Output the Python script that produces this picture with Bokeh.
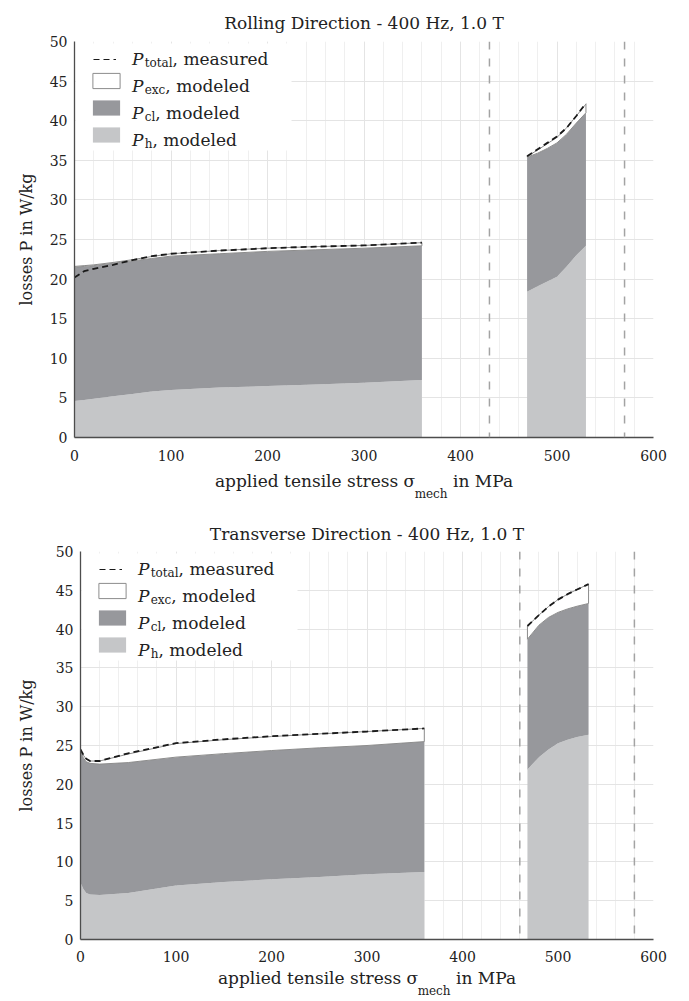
import numpy as np
from bokeh.plotting import figure
from bokeh.models import (Range1d, FixedTicker, Label, Span, Legend, LegendItem,
                          BoxAnnotation, Spacer)
from bokeh.layouts import column, row
from bokeh.embed import file_html
from bokeh.resources import INLINE
from bokeh.core.properties import value

FONT = "DejaVu Serif"
TXT = "#222222"
H_COLOR = "#c5c6c8"
CL_COLOR = "#97989c"
EXC_LINE = "#8c8c8c"

# ---------------- axis ticks ----------------
x_ticks = [0, 100, 200, 300, 400, 500, 600]
x_minor = list(range(0, 601, 20))
y_ticks = [0, 5, 10, 15, 20, 25, 30, 35, 40, 45, 50]

# ---------------- Rolling Direction ----------------
rd_x1 = [0, 10, 20, 40, 60, 80, 100, 150, 200, 250, 300, 360]
rd_h1 = [4.6, 4.75, 4.9, 5.2, 5.5, 5.8, 6.0, 6.3, 6.5, 6.7, 6.9, 7.25]
rd_cl1 = [16.9, 16.85, 16.8, 16.8, 16.8, 16.8, 16.9, 16.9, 17.0, 17.0, 17.0, 16.95]
rd_exc1 = [0.1, 0.1, 0.1, 0.1, 0.15, 0.25, 0.3, 0.4, 0.4, 0.4, 0.35, 0.4]
rd_meas1 = [20.2, 21.0, 21.3, 21.8, 22.4, 22.9, 23.2, 23.6, 23.9, 24.1, 24.25, 24.6]

rd_x2 = [469, 480, 490, 500, 510, 520, 530]
rd_h2 = [18.4, 19.1, 19.7, 20.3, 21.6, 23.0, 24.2]
rd_cl2 = [17.0, 16.8, 16.8, 16.9, 16.7, 16.7, 16.8]
rd_exc2 = [0.1, 0.4, 0.6, 0.7, 0.8, 0.9, 1.1]
rd_meas2 = [35.5, 36.4, 37.2, 38.0, 39.1, 40.6, 42.2]

rd_limits = [430, 570]

# ---------------- Transverse Direction ----------------
td_x1 = [0, 3, 6, 10, 20, 50, 100, 150, 200, 250, 300, 360]
td_h1 = [7.3, 6.5, 6.0, 5.8, 5.75, 6.0, 6.95, 7.4, 7.75, 8.05, 8.4, 8.7]
td_cl1 = [17.0, 16.9, 16.9, 16.9, 16.85, 16.8, 16.55, 16.55, 16.6, 16.65, 16.6, 16.8]
td_exc1 = [0.2, 0.35, 0.35, 0.3, 0.4, 1.1, 1.75, 1.8, 1.8, 1.8, 1.8, 1.7]
td_meas1 = [24.5, 23.8, 23.3, 23.0, 23.0, 24.0, 25.3, 25.8, 26.2, 26.5, 26.8, 27.2]

td_x2 = [468, 480, 490, 500, 510, 520, 532]
td_h2 = [21.9, 23.5, 24.5, 25.3, 25.75, 26.1, 26.4]
td_cl2 = [16.8, 17.0, 17.0, 16.85, 16.85, 16.85, 16.9]
td_exc2 = [1.7, 1.3, 1.4, 1.65, 1.9, 2.15, 2.5]
td_meas2 = [40.4, 41.8, 42.9, 43.8, 44.5, 45.1, 45.8]

td_limits = [460, 580]

legend_rows = [("total", "measured"), ("exc", "modeled"), ("cl", "modeled"), ("h", "modeled")]

# approximate advance widths (em) of DejaVu Serif, for chaining text pieces
W = {' ': .318, '\u00a0': .318, ',': .318, 'a': .596, 'c': .560, 'd': .640, 'e': .592,
     'h': .644, 'i': .320, 'l': .320, 'm': .948, 'n': .644, 'o': .602, 'p': .640,
     'r': .478, 's': .513, 't': .402, 'x': .564, 'u': .644, 'k': .609, 'g': .640,
     '/': .337, 'M': .995, 'P': .733, 'W': 1.03, 'σ': .634}
P_ITAL = 0.69
LEG_SIZE = 17
SUB_SIZE = 12
XLAB_SIZE = 17
YLAB_SIZE = 16


def tw(s, size):
    return sum(W.get(c, .6) for c in s) * size


def lab(p, x, y, text, size, style="normal", align="left", place=None):
    l = Label(x=x, y=y, x_units="screen", y_units="screen", text=text,
              text_font=FONT, text_font_size=f"{size}px", text_font_style=style,
              text_color=TXT, text_align=align, text_baseline="alphabetic",
              level="overlay")
    if place is None:
        p.add_layout(l)
    else:
        p.add_layout(l, place)


def make_plot(title, segments, limits, frame_w, frame_h, left, top, bottom, right,
              title_standoff, ylab_standoff, xtick_standoff, xlab_standoff):
    p = figure(frame_width=frame_w, frame_height=frame_h,
               min_border_left=left, min_border_right=right,
               min_border_top=top, min_border_bottom=bottom,
               x_range=Range1d(0, 600), y_range=Range1d(0, 50),
               output_backend="svg", toolbar_location=None, title=title)
    p.outline_line_color = None
    p.background_fill_color = "white"

    p.title.text_font = FONT
    p.title.text_font_size = "17px"
    p.title.text_font_style = "normal"
    p.title.text_color = TXT
    p.title.align = "center"
    p.title.standoff = title_standoff

    p.xaxis.ticker = FixedTicker(ticks=x_ticks, minor_ticks=x_minor)
    p.yaxis.ticker = FixedTicker(ticks=y_ticks)
    for ax in (p.xaxis, p.yaxis):
        ax.major_tick_line_color = None
        ax.minor_tick_line_color = None
        ax.major_tick_out = 0
        ax.major_tick_in = 0
        ax.axis_line_color = "#4d4d4d"
        ax.axis_line_width = 1.3
        ax.major_label_text_font = FONT
        ax.major_label_text_font_size = "14px"
        ax.major_label_text_color = TXT
        ax.axis_label_text_font = FONT
        ax.axis_label_text_font_style = "normal"
        ax.axis_label_text_color = TXT
    p.xaxis.major_label_standoff = xtick_standoff
    p.yaxis.major_label_standoff = 7
    p.yaxis.axis_label = "losses P in W/kg"
    p.yaxis.axis_label_text_font_size = f"{YLAB_SIZE}px"
    p.yaxis.axis_label_standoff = ylab_standoff

    # x-axis label with a gap where the subscript "mech" goes
    A, C = "applied tensile stress σ", "in MPa"
    n_gap = 7
    xl = A + "\u00a0" * n_gap + C
    p.xaxis.axis_label = xl
    p.xaxis.axis_label_text_font_size = f"{XLAB_SIZE}px"
    p.xaxis.axis_label_standoff = xlab_standoff
    x_sub = frame_w / 2 - tw(xl, XLAB_SIZE) / 2 + tw(A, XLAB_SIZE) + 0.5

    p.xgrid.grid_line_color = "#e4e4e4"
    p.xgrid.minor_grid_line_color = "#efefef"
    p.ygrid.grid_line_color = "#e4e4e4"

    # white legend background
    p.add_layout(BoxAnnotation(left=1, right=217, top=frame_h - 2, bottom=frame_h - 109,
                               left_units="screen", right_units="screen",
                               top_units="screen", bottom_units="screen",
                               fill_color="white", fill_alpha=1.0, line_color=None,
                               level="underlay"))

    first = None
    for (x, h, cl, exc, meas) in segments:
        x = np.asarray(x, float)
        h = np.asarray(h, float)
        top_cl = h + np.asarray(cl, float)
        top_exc = top_cl + np.asarray(exc, float)
        r_h = p.varea(x=x, y1=0, y2=h, fill_color=H_COLOR)
        r_cl = p.varea(x=x, y1=h, y2=top_cl, fill_color=CL_COLOR)
        r_exc = p.patch(x=np.concatenate([x, x[::-1]]),
                        y=np.concatenate([top_cl, top_exc[::-1]]),
                        fill_color="white", line_color=EXC_LINE, line_width=1)
        r_m = p.line(x=x, y=meas, line_color="#1a1a1a", line_width=1.8, line_dash="6 4")
        if first is None:
            first = (r_m, r_exc, r_cl, r_h)

    for v in limits:
        p.add_layout(Span(location=v, dimension="height", line_color="#a3a3a3",
                          line_width=1.5, line_dash="8 9"))

    r_m, r_exc, r_cl, r_h = first
    common = dict(padding=0, margin=0, label_standoff=0, label_text_font_size="1px",
                  background_fill_alpha=0.0, border_line_color=None)
    legA = Legend(items=[LegendItem(label=value(" "), renderers=[r_m])],
                  location=(19, frame_h - 19), glyph_width=23, glyph_height=1,
                  label_height=1, label_width=1, spacing=0, **common)
    legB = Legend(items=[LegendItem(label=value(" "), renderers=[r_exc]),
                         LegendItem(label=value(" "), renderers=[r_cl]),
                         LegendItem(label=value(" "), renderers=[r_h])],
                  location=(14.5, frame_h - 102.5), glyph_width=34, glyph_height=19,
                  label_height=19, label_width=1, spacing=8, **common)
    p.add_layout(legA)
    p.add_layout(legB)

    # legend texts: italic P, subscript, then the rest
    for i, (sub, rest) in enumerate(legend_rows):
        base = frame_h - (17 + 27 * i)
        x0 = 57.5
        lab(p, x0, base, "P", LEG_SIZE, "italic")
        xs = x0 + P_ITAL * LEG_SIZE + 1
        lab(p, xs, base - 4.5, sub, SUB_SIZE)
        xr = xs + tw(sub, SUB_SIZE)
        lab(p, xr, base, ",", LEG_SIZE)
        lab(p, xr + tw(", ", LEG_SIZE), base, rest, LEG_SIZE)

    # subscript of sigma in the x-axis label (panel below the axis)
    lab(p, x_sub, 14, "mech", SUB_SIZE, place="below")
    return p


p1 = make_plot("Rolling Direction - 400 Hz, 1.0 T",
               [(rd_x1, rd_h1, rd_cl1, rd_exc1, rd_meas1),
                (rd_x2, rd_h2, rd_cl2, rd_exc2, rd_meas2)],
               rd_limits, 579, 396, 74, 41, 71, 36, 18, 11, 8, 7)
p2 = make_plot("Transverse Direction - 400 Hz, 1.0 T",
               [(td_x1, td_h1, td_cl1, td_exc1, td_meas1),
                (td_x2, td_h2, td_cl2, td_exc2, td_meas2)],
               td_limits, 573, 388, 74, 43, 61, 36, 16, 17, 7, 3)

layout = column(p1, row(Spacer(width=6, height=10), p2, spacing=0), spacing=0)
open("out.html", "w").write(file_html(layout, INLINE))
